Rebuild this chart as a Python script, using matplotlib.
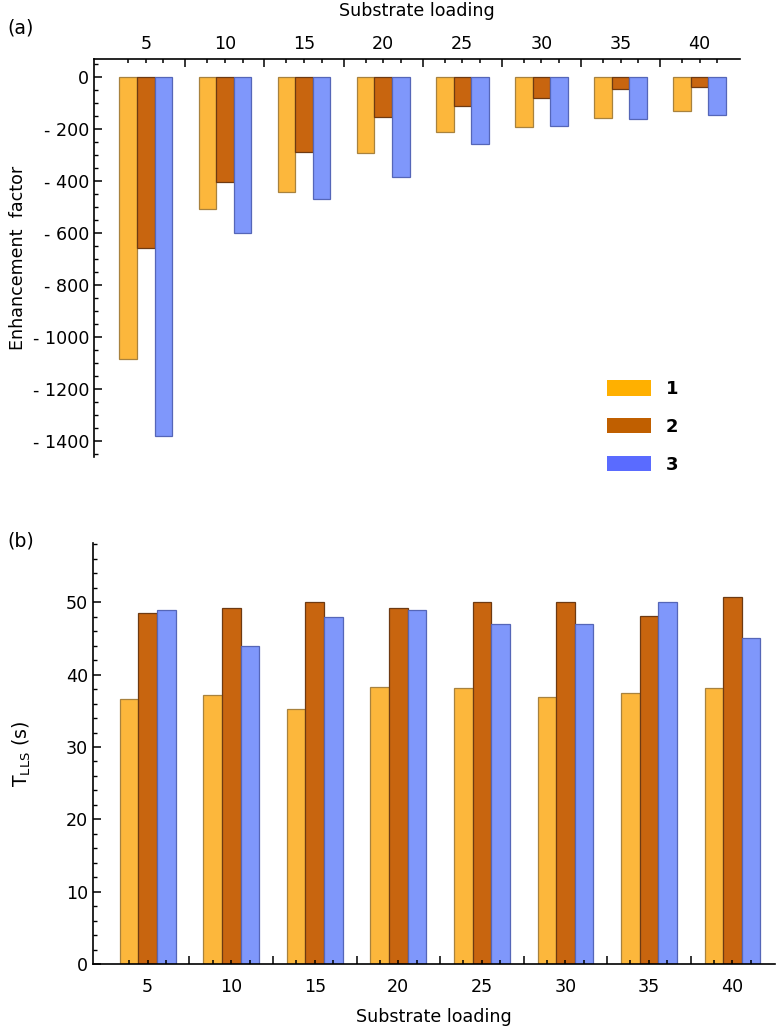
import matplotlib
matplotlib.use('Agg')
import matplotlib.pyplot as plt
from matplotlib.patches import Patch
from matplotlib.ticker import FuncFormatter, MultipleLocator
import numpy as np

# Substrate loading categories
loading = [5, 10, 15, 20, 25, 30, 35, 40]
series_names = ['1', '2', '3']

# (a) enhancement factor
enh_1 = [-1085, -508, -441, -293, -212, -192, -157, -128]
enh_2 = [-655, -403, -288, -154, -111, -80, -47, -37]
enh_3 = [-1380, -600, -470, -384, -256, -188, -161, -146]

# (b) T_LLS in seconds
tlls_1 = [36.6, 37.2, 35.3, 38.3, 38.1, 36.9, 37.4, 38.1]
tlls_2 = [48.5, 49.2, 50.1, 49.2, 50.1, 50.0, 48.1, 50.7]
tlls_3 = [49.0, 44.0, 48.0, 49.0, 47.0, 47.0, 50.0, 45.0]

bar_fill = ['#fcb73c', '#c8650f', '#7f97fb']
bar_edge = ['#a8823e', '#6e3a12', '#5566b8']
legend_fill = ['#ffb000', '#c05f00', '#5a6bff']

fs = 12.6
w = 0.222
pos = np.arange(1, len(loading) + 1)
offsets = [-w, 0, w]

fig = plt.figure(figsize=(7.76, 10.29), dpi=100)
ax1 = fig.add_axes([94/776, 1-457/1029, (740-94)/776, (457-59)/1029])
ax2 = fig.add_axes([93/776, 1-964/1029, (775-93)/776, (964-543)/1029])


def style_axis(ax, side, pad):
    for s in ['right', 'top', 'bottom']:
        ax.spines[s].set_visible(False)
    ax.spines[side].set_visible(True)
    ax.spines['left'].set_linewidth(1.2)
    ax.spines[side].set_linewidth(1.2)
    ax.set_xlim(0.345, 8.51)
    ax.xaxis.set_ticks_position(side)
    ax.set_xticks(np.arange(1.5, 8.5, 1.0))
    ax.set_xticklabels([])
    ax.set_xticks(np.concatenate([pos + o for o in offsets]), minor=True)
    ax.tick_params(axis='x', which='major', direction='in', length=6, width=1.1)
    ax.tick_params(axis='x', which='minor', direction='in', length=3, width=1.1)
    ax.tick_params(axis='y', which='major', direction='in', length=6, width=1.1, labelsize=fs)
    ax.tick_params(axis='y', which='minor', direction='in', length=3, width=1.0)
    sec = ax.secondary_xaxis(side)
    sec.set_xticks(pos, [str(v) for v in loading])
    sec.tick_params(length=0, labelsize=fs, pad=pad)
    sec.spines[side].set_visible(False)
    return sec


vals_a = [enh_1, enh_2, enh_3]
vals_b = [tlls_1, tlls_2, tlls_3]
for k in range(3):
    ax1.bar(pos + offsets[k], vals_a[k], width=w, color=bar_fill[k],
            edgecolor=bar_edge[k], linewidth=0.9)
    ax2.bar(pos + offsets[k], vals_b[k], width=w, color=bar_fill[k],
            edgecolor=bar_edge[k], linewidth=0.9)

sec1 = style_axis(ax1, 'top', 4)
sec1.set_xlabel('Substrate loading', fontsize=fs, labelpad=14)
ax1.set_ylim(-1460, 70)
ax1.yaxis.set_major_locator(MultipleLocator(200))
ax1.yaxis.set_minor_locator(MultipleLocator(50))
ax1.yaxis.set_major_formatter(FuncFormatter(
    lambda v, p: '0' if v == 0 else ('- %d' % -v if v < 0 else '%d' % v)))
ax1.set_ylabel('Enhancement  factor', fontsize=fs, labelpad=4)

sec2 = style_axis(ax2, 'bottom', 10)
sec2.set_xlabel('Substrate loading', fontsize=fs, labelpad=9)
ax2.set_ylim(0, 58.2)
ax2.yaxis.set_major_locator(MultipleLocator(10))
ax2.yaxis.set_minor_locator(MultipleLocator(2))
ax2.set_ylabel(r'T$_{\mathregular{LLS}}$ (s)', fontsize=fs + 1, labelpad=24)

fig.text(7/776, 1-28/1029, '(a)', fontsize=fs + 1, va='center', ha='left')
fig.text(7/776, 1-541/1029, '(b)', fontsize=fs + 1, va='center', ha='left')

handles = [Patch(facecolor=c, edgecolor='none') for c in legend_fill]
fig.legend(handles, series_names, loc='upper left',
           bbox_to_anchor=(607/776, 1-380/1029), frameon=False,
           prop={'weight': 'bold', 'size': 13}, handlelength=2.45,
           handleheight=0.95, labelspacing=1.1, handletextpad=0.8,
           borderpad=0, borderaxespad=0)

fig.savefig('out.png', dpi=100)
